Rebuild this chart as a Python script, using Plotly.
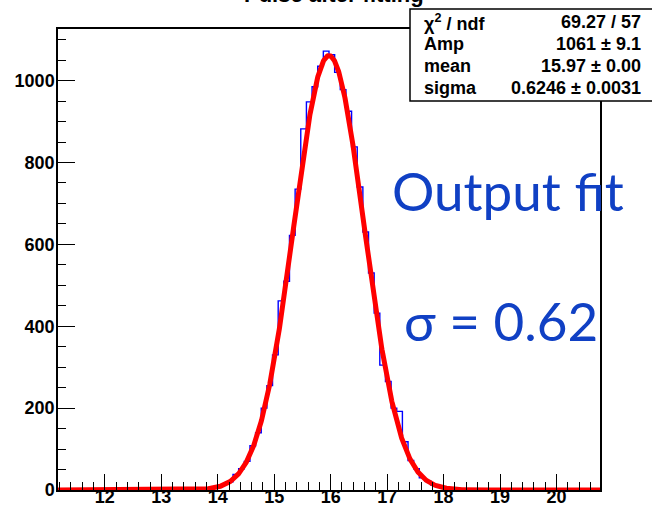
import numpy as np
import plotly.graph_objects as go

# ---------------- data ----------------
title_text = "Pulse after fitting"
x_min = 11.17
bin_width = 0.1
n_bins = 96
# bin contents for bins whose centres run from 13.52 up to 18.32 (all others empty)
first_bin_center = 13.52
counts_nonzero = [0, 1, 1, 3, 5, 8, 14, 20, 38, 52, 70, 108, 140, 200, 255, 330,
                  462, 510, 622, 735, 882, 948, 985, 1035, 1072, 1063, 1020, 978,
                  925, 838, 740, 630, 530, 432, 305, 265, 200, 192, 118, 72, 52,
                  30, 22, 12, 8, 5, 3, 2, 1]
fit_amp = 1061.0
fit_mean = 15.97
fit_sigma = 0.6246
stats_labels = ["χ<sup>2</sup> / ndf", "Amp", "mean", "sigma"]
stats_values = ["69.27 / 57", "1061 ± 9.1", "15.97 ± 0.00", "0.6246 ± 0.0031"]
note_lines = ["Output fit", "σ = 0.62"]
y_max = 1126

# ---------------- build histogram ----------------
edges = x_min + bin_width * np.arange(n_bins + 1)
centers = edges[:-1] + bin_width / 2
counts = np.zeros(n_bins)
i0 = int(round((first_bin_center - centers[0]) / bin_width))
counts[i0:i0 + len(counts_nonzero)] = counts_nonzero
step_y = np.append(counts, counts[-1])

xf = np.linspace(edges[0], edges[-1], 1500)
yf = fit_amp * np.exp(-0.5 * ((xf - fit_mean) / fit_sigma) ** 2)

# ---------------- layout geometry (pixels) ----------------
W, H = 652, 508
L, R, T, B = 58, 600, 29, 490


def px_x(px):
    return (px - L) / (R - L)


def px_y(py):
    return (B - py) / (B - T)


fig = go.Figure()
fig.add_trace(go.Scatter(x=edges, y=step_y, mode="lines", line=dict(color="#0000ff", width=1.4, shape="hv"),
                         hoverinfo="skip", showlegend=False))
fig.add_trace(go.Scatter(x=xf, y=yf, mode="lines", line=dict(color="#ff0000", width=5),
                         hoverinfo="skip", showlegend=False))

tickfont = dict(family="Liberation Sans, Arial", size=18, color="black", weight="bold")
fig.update_layout(
    width=W, height=H,
    margin=dict(l=L, r=W - R, t=T, b=H - B, autoexpand=False),
    paper_bgcolor="white", plot_bgcolor="white",
    showlegend=False,
    xaxis=dict(range=[edges[0], edges[-1]], showgrid=False, zeroline=False, automargin=False,
               showline=True, linecolor="black", linewidth=1.5, mirror=True,
               ticks="inside", ticklen=16, tickwidth=1.2, tickcolor="black",
               tick0=0, dtick=1, tickfont=tickfont, ticklabelstandoff=-10,
               minor=dict(ticks="inside", ticklen=8, dtick=0.2, tickcolor="black", tickwidth=1.2)),
    yaxis=dict(range=[0, y_max], showgrid=False, zeroline=False, automargin=False,
               showline=True, linecolor="black", linewidth=1.5, mirror=True,
               ticks="inside", ticklen=17, tickwidth=1.2, tickcolor="black",
               tick0=0, dtick=200, tickfont=tickfont, ticklabelstandoff=-2,
               minor=dict(ticks="inside", ticklen=8, dtick=50, tickcolor="black", tickwidth=1.2)),
)

# title, partly cut at the top of the page
fig.add_annotation(text="<b>" + title_text + "</b>", x=px_x(334), y=px_y(-5), xref="paper", yref="paper",
                   xanchor="center", yanchor="middle", showarrow=False,
                   font=dict(family="Liberation Sans, Arial", size=22, color="black"))

# stats box
fig.add_shape(type="rect", xref="paper", yref="paper", x0=px_x(410), x1=px_x(665), y0=px_y(101), y1=px_y(9),
              fillcolor="white", line=dict(color="black", width=1.5), layer="above")
row_y = [22, 44, 66, 88]
for lab, val, ry in zip(stats_labels, stats_values, row_y):
    fig.add_annotation(text="<b>" + lab + "</b>", x=px_x(422), y=px_y(ry), xref="paper", yref="paper",
                       xanchor="left", yanchor="middle", showarrow=False,
                       font=dict(family="Liberation Sans, Arial", size=18, color="black"))
    fig.add_annotation(text="<b>" + val + "</b>", x=px_x(643), y=px_y(ry), xref="paper", yref="paper",
                       xanchor="right", yanchor="middle", showarrow=False,
                       font=dict(family="Liberation Sans, Arial", size=18, color="black"))

# blue notes
for line, cx, cy in zip(note_lines, [508, 501], [190, 320]):
    fig.add_annotation(text=line, x=px_x(cx), y=px_y(cy), xref="paper", yref="paper",
                       xanchor="center", yanchor="middle", showarrow=False,
                       font=dict(family="Lato, Open Sans", size=53, color="#1040c4"))

fig.write_html("out.html")
